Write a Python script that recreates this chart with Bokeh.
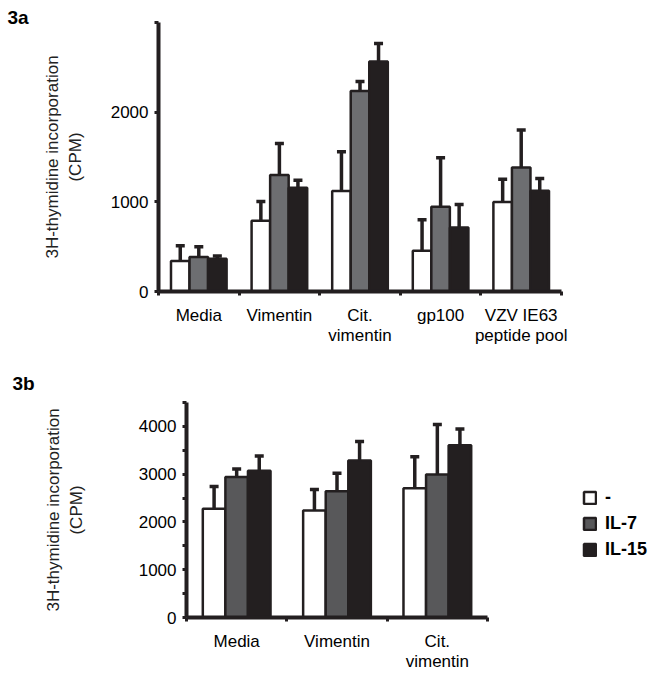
from bokeh.plotting import figure
from bokeh.models import (ColumnDataSource, FixedTicker, Whisker, TeeHead,
                          Legend, LegendItem, Range1d)
from bokeh.embed import file_html
from bokeh.resources import INLINE

# ---------------- data ----------------
series_names = ["-", "IL-7", "IL-15"]

a_categories = ["Media", "Vimentin", "Cit.\nvimentin", "gp100", "VZV IE63\npeptide pool"]
a_none = [340, 790, 1120, 455, 997]
a_none_err = [170, 215, 438, 345, 256]
a_il7 = [385, 1298, 2237, 945, 1384]
a_il7_err = [115, 352, 105, 546, 416]
a_il15 = [365, 1157, 2565, 715, 1123]
a_il15_err = [30, 83, 200, 256, 138]
a_yticks = [0, 1000, 2000]
a_yminor = [3000]

b_categories = ["Media", "Vimentin", "Cit.\nvimentin"]
b_none = [2278, 2237, 2706]
b_none_err = [463, 443, 661]
b_il7 = [2939, 2645, 2993]
b_il7_err = [169, 375, 1048]
b_il15 = [3074, 3286, 3604]
b_il15_err = [306, 400, 341]
b_yticks = [0, 1000, 2000, 3000, 4000]
b_yminor = [500, 1500, 2500, 3500, 4500]

y_label = "3H-thymidine incorporation\n(CPM)"

INK = "#231f20"
FONT = "Liberation Sans"


def panel(cats, series, errs, yticks, yminor, ymax, x_end, grey, width, height,
          borders, title, title_offset, title_standoff, ylab_standoff, bar_w):
    n = len(cats)
    p = figure(width=width, height=height, output_backend="svg",
               toolbar_location=None, x_range=Range1d(-0.5, x_end),
               y_range=Range1d(0, ymax),
               min_border_left=borders[0], min_border_right=borders[1],
               min_border_top=borders[2], min_border_bottom=borders[3])
    p.outline_line_color = None
    p.xgrid.grid_line_color = None
    p.ygrid.grid_line_color = None

    p.title.text = title
    p.title.text_font = FONT
    p.title.text_font_size = "19px"
    p.title.text_font_style = "bold"
    p.title.align = "left"
    p.title.offset = title_offset
    p.title.standoff = title_standoff
    p.title.text_color = "black"

    colors = ["white", grey, INK]
    offsets = [-bar_w, 0.0, bar_w]
    renderers = []
    for vals, err, col, off in zip(series, errs, colors, offsets):
        xs = [i + off for i in range(n)]
        src = ColumnDataSource(dict(x=xs, top=vals,
                                    upper=[v + e for v, e in zip(vals, err)]))
        r = p.vbar(x="x", top="top", width=bar_w, bottom=0, source=src,
                   fill_color=col, line_color=INK, line_width=2.5)
        renderers.append(r)
        w = Whisker(base="x", lower="top", upper="upper", source=src,
                    dimension="height", line_color=INK, line_width=3.5,
                    upper_head=TeeHead(size=9, line_color=INK, line_width=3.5),
                    lower_head=None, level="overlay")
        p.add_layout(w)

    xa = p.xaxis[0]
    xa.bounds = (-0.5, n - 0.5)
    xa.ticker = FixedTicker(ticks=list(range(n)),
                            minor_ticks=[i - 0.5 for i in range(n + 1)])
    xa.major_label_overrides = {i: c for i, c in enumerate(cats)}
    xa.major_tick_line_color = None
    xa.major_tick_out = 0
    xa.major_tick_in = 0
    xa.minor_tick_line_color = INK
    xa.minor_tick_line_width = 3
    xa.minor_tick_out = 4
    xa.minor_tick_in = 0
    xa.axis_line_width = 4
    xa.axis_line_color = INK
    xa.major_label_text_font = FONT
    xa.major_label_text_font_size = "17px"
    xa.major_label_text_line_height = 1.1
    xa.major_label_text_color = "black"
    xa.major_label_standoff = 10

    ya = p.yaxis[0]
    ya.ticker = FixedTicker(ticks=yticks, minor_ticks=yminor)
    ya.axis_line_width = 4
    ya.axis_line_color = INK
    ya.major_tick_line_color = INK
    ya.major_tick_line_width = 3
    ya.major_tick_out = 4
    ya.major_tick_in = 0
    ya.minor_tick_line_color = INK
    ya.minor_tick_line_width = 3
    ya.minor_tick_out = 4
    ya.minor_tick_in = 0
    ya.major_label_text_font = FONT
    ya.major_label_text_font_size = "17px"
    ya.major_label_text_color = "black"
    ya.major_label_standoff = 6
    ya.axis_label = y_label
    ya.axis_label_text_font = FONT
    ya.axis_label_text_font_size = "17px"
    ya.axis_label_text_font_style = "normal"
    ya.axis_label_text_color = "#222222"
    ya.axis_label_standoff = ylab_standoff
    return p, renderers


pa, _ = panel(a_categories, [a_none, a_il7, a_il15],
              [a_none_err, a_il7_err, a_il15_err], a_yticks, a_yminor, 3000, 4.5,
              "#6d6e71", 662, 355, (158, 101, 22, 64), "3a", -151, -10, 23, 0.23)

pb, rb = panel(b_categories, [b_none, b_il7, b_il15],
               [b_none_err, b_il7_err, b_il15_err], b_yticks, b_yminor, 4500, 4.244,
               "#58585a", 662, 319, (186, 0, 47, 51), "3b", -174, 17, 50, 0.225)

legend = Legend(items=[LegendItem(label=s, renderers=[r]) for s, r in zip(series_names, rb)],
                location=(396, 57), padding=0, margin=0, spacing=5,
                glyph_width=15, glyph_height=15, label_height=15,
                label_standoff=8, border_line_color=None,
                background_fill_alpha=0, label_text_font=FONT,
                label_text_font_style="bold",
                label_text_font_size="18px", label_text_color="black")
pb.add_layout(legend)

open("out.html", "w").write(file_html([pa, pb], INLINE))
